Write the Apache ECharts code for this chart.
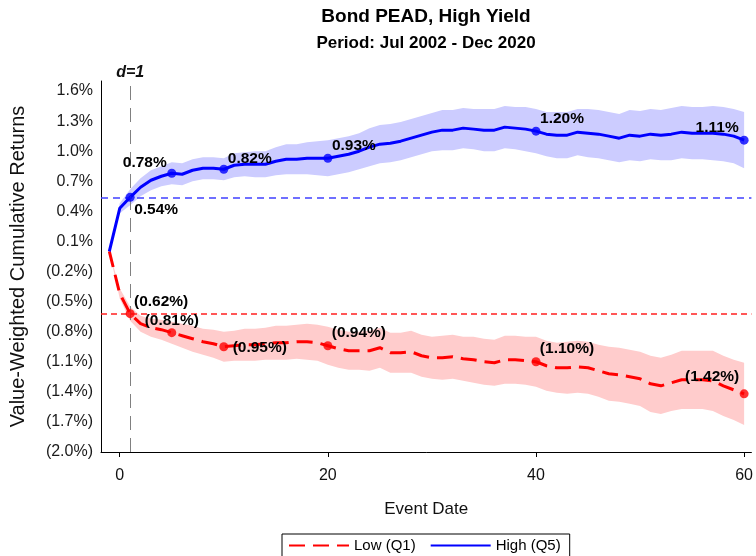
<!DOCTYPE html>
<html>
<head>
<meta charset="utf-8">
<script src="https://cdn.jsdelivr.net/npm/echarts@6/dist/echarts.min.js"></script>
<style>
  html, body { margin: 0; padding: 0; background: #fff; }
  #chart { width: 756px; height: 556px; }
</style>
</head>
<body>
<div id="chart"></div>
<script>
// event days, -1 .. 60
var days = [-1, 0, 1, 2, 3, 4, 5, 6, 7, 8, 9, 10, 11, 12, 13, 14, 15, 16, 17, 18, 19, 20,
  21, 22, 23, 24, 25, 26, 27, 28, 29, 30, 31, 32, 33, 34, 35, 36, 37, 38, 39, 40,
  41, 42, 43, 44, 45, 46, 47, 48, 49, 50, 51, 52, 53, 54, 55, 56, 57, 58, 59, 60];

// High (Q5) cumulative return, %
var high = [0.00, 0.43, 0.54, 0.64, 0.71, 0.75, 0.78, 0.77, 0.81, 0.83, 0.83, 0.82,
  0.86, 0.87, 0.87, 0.87, 0.90, 0.92, 0.92, 0.93, 0.93, 0.93,
  0.95, 0.97, 1.00, 1.04, 1.07, 1.08, 1.10, 1.13, 1.16, 1.19,
  1.21, 1.21, 1.23, 1.22, 1.21, 1.21, 1.24, 1.23, 1.22, 1.20,
  1.17, 1.16, 1.16, 1.19, 1.18, 1.17, 1.15, 1.13, 1.16, 1.15,
  1.17, 1.16, 1.17, 1.19, 1.18, 1.18, 1.18, 1.17, 1.15, 1.11];
// half width of the High confidence band
var highCI = [0.00, 0.05, 0.08, 0.09, 0.10, 0.10, 0.11, 0.11, 0.11, 0.11, 0.11, 0.11,
  0.12, 0.12, 0.13, 0.13, 0.14, 0.15, 0.15, 0.16, 0.17, 0.18,
  0.18, 0.18, 0.18, 0.19, 0.19, 0.19, 0.19, 0.19, 0.19, 0.19,
  0.20, 0.20, 0.20, 0.20, 0.21, 0.21, 0.21, 0.21, 0.22, 0.22,
  0.22, 0.23, 0.23, 0.23, 0.24, 0.24, 0.24, 0.24, 0.25, 0.25,
  0.25, 0.25, 0.26, 0.26, 0.26, 0.26, 0.27, 0.27, 0.27, 0.28];

// Low (Q1) cumulative return, %
var low = [0.00, -0.42, -0.62, -0.72, -0.76, -0.78, -0.81, -0.84, -0.87, -0.90, -0.92, -0.95,
  -0.94, -0.93, -0.93, -0.92, -0.91, -0.91, -0.90, -0.90, -0.91, -0.94,
  -0.97, -0.99, -0.99, -0.99, -0.96, -1.01, -1.01, -1.00, -1.04, -1.06,
  -1.06, -1.05, -1.07, -1.08, -1.10, -1.11, -1.08, -1.08, -1.09, -1.10,
  -1.14, -1.16, -1.16, -1.15, -1.16, -1.19, -1.22, -1.23, -1.25, -1.27,
  -1.32, -1.34, -1.31, -1.28, -1.28, -1.28, -1.29, -1.34, -1.38, -1.42];
var lowCI = [0.00, 0.05, 0.07, 0.08, 0.09, 0.10, 0.11, 0.12, 0.13, 0.13, 0.14, 0.15,
  0.15, 0.16, 0.16, 0.16, 0.17, 0.17, 0.17, 0.18, 0.18, 0.19,
  0.19, 0.19, 0.19, 0.20, 0.20, 0.20, 0.20, 0.21, 0.21, 0.21,
  0.22, 0.22, 0.22, 0.23, 0.23, 0.23, 0.24, 0.24, 0.24, 0.25,
  0.25, 0.25, 0.26, 0.26, 0.26, 0.26, 0.27, 0.27, 0.27, 0.27,
  0.28, 0.28, 0.28, 0.29, 0.29, 0.29, 0.30, 0.30, 0.30, 0.31];

// days that get a marker and a value label
var markDays = [1, 5, 10, 20, 40, 60];
var refDay = 1;

var xTicks = [0, 20, 40, 60];
var yTicks = [-2.0, -1.7, -1.4, -1.1, -0.8, -0.5, -0.2, 0.1, 0.4, 0.7, 1.0, 1.3, 1.6];

var FONT = "'Liberation Sans', Arial, sans-serif";

function pct(v) {
  if (v < 0) return '(' + Math.abs(v).toFixed(1) + '%)';
  return v.toFixed(1) + '%';
}
function pct2(v) {
  if (v < 0) return '(' + Math.abs(v).toFixed(2) + '%)';
  return v.toFixed(2) + '%';
}
function pairs(vals) {
  var out = [];
  for (var i = 0; i < days.length; i++) out.push([days[i], vals[i]]);
  return out;
}

function bandSeries(name, mid, ci, color) {
  return {
    name: name,
    type: 'custom',
    silent: true,
    z: 1,
    data: [[0, 0]],
    renderItem: function(params, api) {
      var up = [], dn = [];
      for (var i = 0; i < days.length; i++) {
        up.push(api.coord([days[i], mid[i] + ci[i]]));
        dn.unshift(api.coord([days[i], mid[i] - ci[i]]));
      }
      return {
        type: 'polygon',
        shape: { points: up.concat(dn) },
        style: { fill: color }
      };
    }
  };
}

// label offsets (text centre relative to the marker)
var highOffsets = [[26, 12], [-27, -11], [26, -11], [26, -12], [26, -12], [-27, -12]];
var lowOffsets = [[31, -12], [0, -12], [36, 1], [31, -13], [31, -13], [-32, -17]];

function markSeries(name, vals, color, offsets) {
  var data = [];
  for (var k = 0; k < markDays.length; k++) {
    var i = days.indexOf(markDays[k]);
    data.push({
      value: [days[i], vals[i]],
      label: { offset: offsets[k] }
    });
  }
  return {
    name: name,
    type: 'scatter',
    z: 5,
    symbol: 'circle',
    symbolSize: 9,
    itemStyle: { color: color },
    label: {
      show: true,
      position: 'inside',
      color: '#000',
      opacity: 1,
      fontWeight: 'bold',
      fontSize: 15.5,
      fontFamily: FONT,
      textBorderWidth: 0,
      textBorderColor: 'transparent',
      formatter: function(p) { return pct2(p.value[1]); }
    },
    emphasis: { disabled: true },
    data: data
  };
}

var refIdx = days.indexOf(refDay);

var option = {
  animation: false,
  backgroundColor: '#fff',
  textStyle: { fontFamily: FONT },
  title: {
    text: 'Bond PEAD, High Yield',
    subtext: 'Period: Jul 2002 - Dec 2020',
    left: 426,
    top: 7,
    padding: 0,
    textAlign: 'center',
    itemGap: 9,
    textStyle: { fontSize: 19, fontWeight: 'bold', color: '#000', fontFamily: FONT },
    subtextStyle: { fontSize: 17, fontWeight: 'bold', color: '#000', fontFamily: FONT }
  },
  legend: {
    data: ['Low (Q1)', 'High (Q5)'],
    left: 282,
    top: 534,
    itemWidth: 60,
    itemHeight: 14,
    itemGap: 14,
    padding: [4, 9, 4, 6],
    borderColor: '#000',
    borderWidth: 1,
    itemStyle: { opacity: 0 },
    textStyle: { fontSize: 15, color: '#000', fontFamily: FONT }
  },
  grid: { left: 99, right: 3, top: 81, bottom: 104, containLabel: false },
  xAxis: {
    type: 'value',
    min: -1.8,
    max: 60.7,
    name: 'Event Date',
    nameLocation: 'middle',
    nameGap: 49,
    nameTextStyle: { fontSize: 17, color: '#111', fontFamily: FONT },
    axisLine: { show: true, onZero: false, lineStyle: { color: '#000', width: 1 } },
    axisTick: { show: true, inside: false, length: 5, customValues: xTicks, lineStyle: { color: '#000' } },
    axisLabel: { customValues: xTicks, margin: 16, fontSize: 16, color: '#111', fontFamily: FONT },
    splitLine: { show: false }
  },
  yAxis: {
    type: 'value',
    min: -2.0,
    max: 1.7,
    name: 'Value-Weighted Cumulative Returns',
    nameLocation: 'middle',
    nameGap: 73,
    nameTextStyle: { fontSize: 20, color: '#111', fontFamily: FONT },
    axisLine: { show: true, onZero: false, lineStyle: { color: '#000', width: 1 } },
    axisTick: { show: false },
    axisLabel: {
      customValues: yTicks,
      margin: 8,
      fontSize: 16,
      color: '#1a1a1a',
      fontFamily: FONT,
      formatter: function(v) { return pct(v); }
    },
    splitLine: { show: false }
  },
  series: [
    bandSeries('Low band', low, lowCI, '#ffcccc'),
    bandSeries('High band', high, highCI, '#ccccff'),
    {
      name: 'Low (Q1)',
      type: 'line',
      z: 3,
      showSymbol: false,
      symbol: 'none',
      lineStyle: { color: '#ff0000', width: 3, type: [16, 8] },
      itemStyle: { color: '#ff0000' },
      data: pairs(low),
      markLine: {
        silent: true,
        symbol: 'none',
        label: { show: false },
        data: [
          { yAxis: low[refIdx], lineStyle: { color: '#ff2020', width: 1.5, type: [6, 4] } },
          {
            xAxis: refDay,
            lineStyle: { color: '#808080', width: 1, type: [14, 8] },
            label: {
              show: true,
              position: 'end',
              distance: 0,
              formatter: 'd=' + refDay,
              fontSize: 16,
              fontWeight: 'bold',
              fontStyle: 'italic',
              color: '#111',
              fontFamily: FONT
            }
          }
        ]
      }
    },
    {
      name: 'High (Q5)',
      type: 'line',
      z: 3,
      showSymbol: false,
      symbol: 'none',
      lineStyle: { color: '#0000ff', width: 3 },
      itemStyle: { color: '#0000ff' },
      data: pairs(high),
      markLine: {
        silent: true,
        symbol: 'none',
        label: { show: false },
        data: [
          { yAxis: high[refIdx], lineStyle: { color: '#4040ff', width: 1.5, type: [7, 5] } }
        ]
      }
    },
    markSeries('Low marks', low, '#ff0000', lowOffsets),
    markSeries('High marks', high, '#0000ff', highOffsets)
  ]
};

var myChart = echarts.init(document.getElementById('chart'));
myChart.setOption(option);
</script>
</body>
</html>
